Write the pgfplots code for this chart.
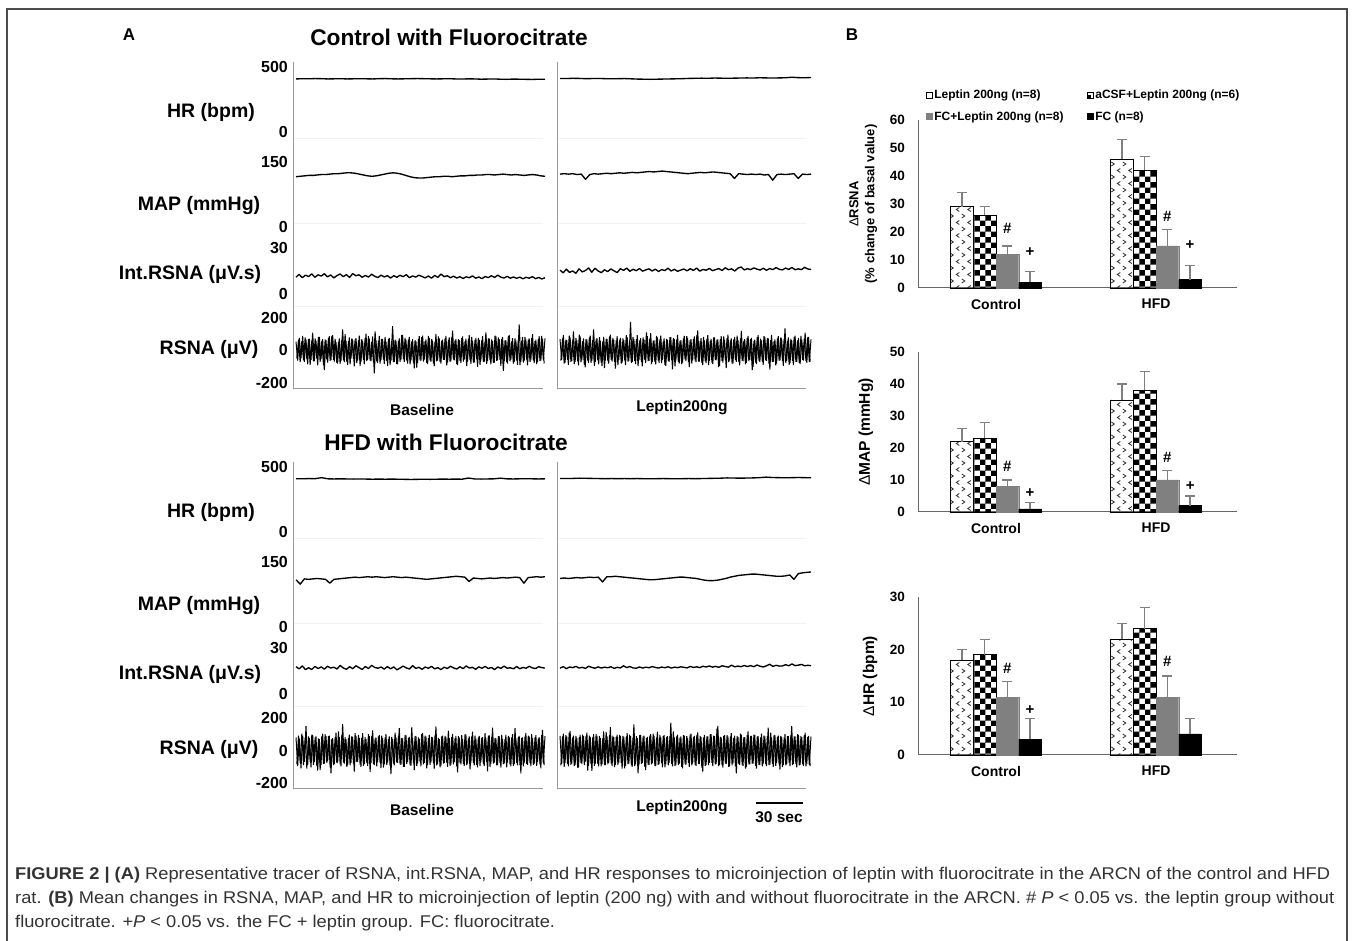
\documentclass[border=0pt]{standalone}
\usepackage{pgfplots}
\pgfplotsset{compat=1.18}
\usepackage{pgfplotstable}
\usepackage{fontspec}
\setmainfont{Liberation Sans}
\newfontfamily\capfont[FakeStretch=1.075]{Liberation Sans}
\usetikzlibrary{patterns}
\newcommand\fsz[1]{\fontsize{#1pt}{#1pt}\selectfont}

\pgfdeclarepatternformonly{bigchecker}{\pgfpointorigin}{\pgfqpoint{11.4pt}{11.4pt}}{\pgfqpoint{11.4pt}{11.4pt}}{%
 \pgfpathrectangle{\pgfpointorigin}{\pgfqpoint{5.75pt}{5.75pt}}%
 \pgfpathrectangle{\pgfqpoint{5.7pt}{5.7pt}}{\pgfqpoint{5.75pt}{5.75pt}}%
 \pgfusepath{fill}}
\pgfdeclarepatternformonly{chev}{\pgfqpoint{-1pt}{-1pt}}{\pgfqpoint{12.5pt}{14pt}}{\pgfqpoint{11.5pt}{13pt}}{%
 \pgfsetlinewidth{0.8pt}%
 \pgfpathmoveto{\pgfqpoint{4.8pt}{5.5pt}}\pgfpathlineto{\pgfqpoint{1.8pt}{3.5pt}}\pgfpathlineto{\pgfqpoint{4.8pt}{1.5pt}}%
 \pgfpathmoveto{\pgfqpoint{7.3pt}{12pt}}\pgfpathlineto{\pgfqpoint{10.3pt}{10pt}}\pgfpathlineto{\pgfqpoint{7.3pt}{8pt}}%
 \pgfusepath{stroke}}

% ---------------- bar chart data ----------------
\pgfplotstableread{
x v1 e1 v2 e2 v3 e3 v4 e4
0 29 5 26 3 12 3 2 4
1 46 7 42 5 15 6 3 5
}\tabR
\pgfplotstableread{
x v1 e1 v2 e2 v3 e3 v4 e4
0 22 4 23 5 8 2 1 2
1 35 5 38 6 10 3 2 3
}\tabM
\pgfplotstableread{
x v1 e1 v2 e2 v3 e3 v4 e4
0 18 2 19 3 11 3 3 4
1 22 3 24 4 11 4 4 3
}\tabH

% ---------------- trace data ----------------
\pgfplotstableread[row sep=\\]{y\\
408\\410\\409\\411\\410\\408\\409\\410\\408\\409\\410\\409\\408\\410\\411\\409\\408\\409\\410\\411\\
410\\409\\408\\409\\410\\408\\407\\409\\408\\406\\407\\408\\406\\405\\407\\406\\405\\404\\406\\405\\}\hrTL
\pgfplotstableread[row sep=\\]{y\\
412\\411\\413\\412\\410\\411\\412\\410\\409\\410\\411\\409\\407\\406\\405\\406\\407\\408\\409\\410\\
412\\413\\414\\413\\415\\414\\413\\414\\415\\416\\415\\417\\416\\415\\416\\417\\421\\418\\417\\419\\}\hrTR
\pgfplotstableread[row sep=\\]{y\\
410\\409\\411\\410\\418\\409\\408\\409\\408\\407\\408\\407\\406\\407\\406\\407\\406\\405\\404\\405\\
406\\405\\406\\407\\406\\407\\406\\415\\408\\407\\408\\409\\414\\409\\408\\409\\410\\409\\408\\409\\}\hrBL
\pgfplotstableread[row sep=\\]{y\\
412\\411\\412\\414\\413\\412\\411\\410\\411\\410\\411\\410\\411\\410\\409\\410\\411\\410\\409\\410\\
411\\410\\411\\412\\413\\414\\416\\415\\414\\415\\416\\418\\422\\419\\418\\417\\418\\419\\418\\417\\}\hrBR

\pgfplotstableread[row sep=\\]{y\\
116\\117\\118\\119\\119\\120\\121\\121\\122\\123\\123\\124\\125\\125\\124\\122\\120\\118\\117\\118\\
120\\122\\124\\125\\124\\122\\119\\116\\114\\113\\113\\114\\115\\116\\116\\117\\117\\116\\117\\118\\
118\\119\\119\\120\\120\\121\\121\\120\\121\\122\\121\\120\\121\\120\\119\\120\\121\\120\\118\\117\\}\mapTL
\pgfplotstableread[row sep=\\]{y\\
122\\123\\122\\123\\121\\122\\110\\121\\123\\122\\123\\124\\123\\124\\125\\124\\125\\126\\125\\126\\
127\\128\\127\\128\\129\\128\\127\\126\\125\\124\\123\\124\\125\\126\\125\\126\\127\\126\\125\\124\\
123\\112\\123\\122\\121\\122\\121\\122\\120\\121\\108\\121\\122\\121\\122\\123\\112\\122\\121\\122\\}\mapTR
\pgfplotstableread[row sep=\\]{y\\
109\\99\\111\\110\\111\\112\\111\\110\\101\\110\\111\\112\\113\\114\\115\\114\\115\\116\\115\\116\\
115\\114\\115\\116\\115\\114\\115\\114\\113\\112\\111\\110\\111\\112\\113\\114\\115\\116\\117\\116\\
115\\105\\113\\112\\111\\112\\113\\112\\113\\114\\113\\114\\115\\114\\101\\114\\115\\116\\115\\116\\}\mapBL
\pgfplotstableread[row sep=\\]{y\\
112\\113\\112\\113\\114\\113\\114\\115\\114\\115\\104\\116\\116\\117\\116\\115\\114\\113\\112\\111\\
110\\109\\109\\110\\111\\112\\113\\114\\115\\115\\114\\113\\112\\110\\108\\107\\107\\108\\110\\112\\
115\\117\\119\\120\\121\\122\\122\\121\\120\\119\\118\\117\\117\\118\\120\\110\\123\\125\\126\\127\\}\mapBR

\pgfplotstableread[row sep=\\]{y\\
11.0\\12.8\\10.6\\12.3\\11.4\\13.1\\10.9\\12.5\\11.7\\13.2\\11.2\\12.4\\10.5\\12.0\\13.0\\11.3\\12.6\\10.8\\13.3\\11.9\\
12.5\\10.9\\12.1\\11.0\\12.9\\11.5\\10.7\\12.3\\11.1\\12.0\\10.4\\11.9\\10.9\\12.2\\11.3\\12.6\\10.6\\11.8\\11.0\\12.3\\
11.4\\10.5\\11.7\\10.3\\12.1\\10.8\\13.0\\11.3\\11.9\\10.6\\11.6\\10.4\\11.3\\10.1\\11.2\\10.6\\11.8\\10.3\\11.1\\10.0\\
11.4\\10.7\\11.9\\10.8\\12.3\\11.0\\10.4\\11.5\\10.3\\11.1\\10.2\\11.0\\9.9\\10.9\\10.3\\11.3\\10.0\\10.8\\9.8\\10.6\\}\intTL
\pgfplotstableread[row sep=\\]{y\\
15.6\\13.8\\16.2\\14.1\\15.0\\13.5\\16.4\\14.4\\15.3\\17.0\\14.2\\16.8\\15.0\\13.9\\15.8\\14.6\\16.3\\15.1\\14.0\\16.5\\
15.4\\16.9\\14.8\\16.1\\15.2\\16.6\\14.9\\15.7\\16.4\\15.0\\16.2\\14.7\\15.9\\15.3\\16.8\\15.0\\16.1\\14.8\\15.6\\16.3\\
15.1\\16.5\\15.4\\16.9\\14.9\\16.0\\15.5\\16.7\\15.2\\15.9\\16.6\\15.3\\17.1\\15.8\\16.4\\15.0\\16.8\\17.6\\15.7\\16.5\\
15.9\\17.0\\16.2\\15.6\\16.8\\15.4\\16.6\\15.9\\17.2\\16.1\\15.7\\16.9\\16.0\\17.3\\15.8\\16.4\\15.9\\17.4\\16.3\\16.0\\}\intTR
\pgfplotstableread[row sep=\\]{y\\
17.8\\16.4\\18.3\\15.9\\17.1\\16.0\\18.0\\16.6\\17.7\\16.2\\18.1\\16.9\\17.5\\16.3\\18.6\\17.0\\16.1\\17.8\\16.5\\18.4\\
17.2\\16.0\\17.9\\16.6\\18.7\\17.3\\16.8\\17.6\\16.2\\17.9\\16.4\\17.7\\15.8\\16.9\\18.2\\17.0\\16.3\\18.5\\16.7\\17.4\\
16.1\\17.6\\16.8\\18.0\\16.4\\17.2\\15.9\\17.5\\16.6\\18.1\\17.0\\16.3\\17.8\\16.5\\18.3\\16.9\\17.4\\16.1\\17.7\\16.8\\
18.0\\16.6\\17.3\\15.9\\17.6\\16.7\\18.2\\16.8\\17.1\\16.4\\17.9\\16.5\\17.3\\16.8\\18.1\\17.0\\16.6\\17.8\\17.2\\16.9\\}\intBL
\pgfplotstableread[row sep=\\]{y\\
16.8\\17.9\\16.5\\17.6\\17.2\\18.0\\16.9\\17.4\\16.7\\18.1\\17.3\\16.8\\17.7\\16.9\\17.5\\17.1\\17.8\\16.7\\17.4\\17.0\\
18.4\\17.2\\17.9\\17.0\\16.8\\17.6\\16.9\\17.5\\17.1\\17.9\\17.3\\16.9\\17.6\\17.1\\17.8\\16.9\\17.5\\17.2\\17.7\\17.4\\
17.0\\18.0\\17.3\\17.7\\17.2\\18.1\\17.6\\18.3\\17.5\\18.0\\17.4\\18.4\\17.9\\17.5\\18.8\\17.7\\18.2\\17.8\\18.6\\17.9\\
18.5\\17.8\\18.9\\18.1\\17.6\\18.4\\19.4\\18.0\\18.7\\18.2\\18.3\\19.1\\18.4\\19.6\\18.5\\18.8\\19.3\\18.4\\18.7\\18.5\\}\intBR

% RSNA: two interleaved sample streams per trace (a = even samples, b = odd samples)
\pgfplotstableread[row sep=\\]{y\\
55\\-62\\78\\-48\\90\\-70\\66\\-85\\72\\-58\\110\\-66\\60\\-92\\84\\-54\\70\\-120\\63\\-75\\
88\\-60\\95\\-68\\52\\-80\\74\\-64\\130\\-72\\58\\-88\\80\\-50\\68\\-98\\76\\-62\\92\\-70\\
60\\-84\\104\\-58\\72\\-66\\86\\-140\\64\\-76\\90\\-60\\70\\-82\\56\\-94\\78\\-66\\150\\-72\\
62\\-86\\74\\-58\\96\\-70\\66\\-80\\84\\-62\\70\\-110\\58\\-76\\88\\-64\\92\\-56\\68\\-84\\
76\\-70\\60\\-96\\102\\-62\\74\\-80\\66\\-58\\90\\-74\\80\\-66\\122\\-60\\70\\-90\\64\\-78\\
86\\-56\\72\\-68\\94\\-82\\60\\-74\\78\\-100\\66\\-62\\88\\-70\\112\\-64\\74\\-86\\58\\-76\\
90\\-60\\70\\-94\\82\\-66\\64\\-80\\96\\-58\\76\\-72\\62\\-88\\160\\-70\\84\\-64\\68\\-92\\
74\\-60\\100\\-78\\66\\-70\\88\\-62\\72\\-80\\}\rsTLa
\pgfplotstableread[row sep=\\]{y\\
-48\\66\\-72\\58\\-60\\80\\-54\\70\\-88\\62\\-66\\74\\-50\\84\\-70\\60\\-92\\68\\-56\\78\\
-64\\90\\-58\\72\\-76\\54\\-82\\66\\-60\\100\\-70\\58\\-86\\74\\-52\\68\\-78\\62\\-94\\70\\
-58\\76\\-66\\88\\-62\\54\\-74\\118\\-68\\60\\-80\\72\\-56\\84\\-64\\70\\-90\\58\\-72\\66\\
-84\\60\\-70\\96\\-54\\78\\-62\\68\\-86\\56\\-74\\64\\-106\\72\\-60\\82\\-68\\58\\-76\\90\\
-62\\70\\-80\\56\\-66\\86\\-72\\60\\-58\\74\\-92\\66\\-70\\80\\-56\\62\\-84\\70\\-64\\76\\
-68\\58\\-96\\72\\-60\\84\\-74\\66\\-54\\78\\-88\\62\\-70\\56\\-82\\74\\-60\\68\\-76\\92\\
-64\\80\\-58\\70\\-126\\62\\-72\\88\\-66\\56\\-80\\74\\-62\\68\\-90\\60\\-74\\84\\-56\\66\\
-70\\78\\-62\\58\\-84\\72\\-66\\90\\-60\\74\\}\rsTLb
\pgfplotstableread[row sep=\\]{y\\
70\\-58\\96\\-74\\64\\-88\\80\\-66\\118\\-70\\62\\-92\\86\\-60\\74\\-104\\68\\-78\\92\\-64\\
130\\-70\\76\\-86\\60\\-96\\84\\-62\\72\\-80\\98\\-68\\66\\-112\\88\\-58\\78\\-74\\64\\-90\\
82\\-66\\176\\-72\\70\\-84\\94\\-60\\76\\-98\\68\\-78\\88\\-64\\106\\-70\\62\\-86\\80\\-76\\
92\\-58\\74\\-94\\66\\-70\\84\\-116\\72\\-62\\96\\-80\\64\\-74\\90\\-66\\78\\-102\\70\\-60\\
86\\-72\\124\\-68\\76\\-90\\62\\-78\\94\\-64\\72\\-84\\80\\-60\\68\\-96\\88\\-74\\66\\-108\\
98\\-62\\74\\-80\\84\\-70\\64\\-92\\120\\-66\\70\\-76\\90\\-58\\78\\-100\\66\\-84\\94\\-72\\
62\\-88\\82\\-64\\76\\-118\\96\\-70\\68\\-80\\88\\-62\\74\\-94\\136\\-66\\80\\-78\\64\\-90\\
92\\-70\\78\\-84\\66\\-62\\110\\-76\\84\\-68\\}\rsTRa
\pgfplotstableread[row sep=\\]{y\\
-62\\74\\-80\\66\\-58\\92\\-70\\60\\-84\\76\\-66\\98\\-72\\58\\-88\\70\\-62\\80\\-76\\64\\
-94\\68\\-60\\82\\-74\\56\\-108\\72\\-66\\86\\-58\\78\\-70\\62\\-90\\66\\-80\\74\\-60\\94\\
-68\\58\\-76\\84\\-64\\70\\-96\\62\\-72\\80\\-58\\112\\-66\\74\\-84\\60\\-70\\90\\-62\\68\\
-78\\56\\-88\\72\\-64\\82\\-60\\76\\-98\\66\\-70\\60\\-84\\74\\-56\\88\\-72\\64\\-80\\70\\
-62\\94\\-68\\58\\-76\\84\\-66\\72\\-90\\60\\-74\\80\\-58\\66\\-102\\70\\-64\\86\\-60\\76\\
-72\\62\\-80\\68\\-58\\92\\-70\\74\\-64\\60\\-86\\78\\-66\\70\\-120\\58\\-74\\84\\-62\\72\\
-68\\88\\-60\\76\\-82\\64\\-70\\58\\-92\\74\\-62\\80\\-66\\70\\-78\\60\\-88\\72\\-64\\84\\
-70\\62\\-76\\90\\-58\\74\\-66\\80\\-72\\68\\}\rsTRb
\pgfplotstableread[row sep=\\]{y\\
80\\-96\\74\\-110\\92\\-70\\150\\-88\\78\\-104\\96\\-72\\86\\-124\\70\\-90\\104\\-80\\88\\-66\\
92\\-140\\76\\-84\\110\\-74\\82\\-98\\164\\-80\\70\\-92\\98\\-76\\84\\-130\\90\\-70\\78\\-100\\
106\\-84\\72\\-96\\88\\-78\\124\\-90\\80\\-72\\94\\-108\\76\\-86\\100\\-74\\86\\-146\\70\\-92\\
82\\-76\\138\\-88\\74\\-100\\96\\-70\\84\\-94\\78\\-120\\90\\-80\\72\\-98\\108\\-76\\86\\-90\\
96\\-74\\80\\-112\\148\\-84\\70\\-96\\92\\-78\\84\\-100\\76\\-88\\102\\-72\\90\\-134\\80\\-86\\
72\\-94\\98\\-80\\86\\-76\\116\\-92\\74\\-104\\90\\-70\\82\\-96\\78\\-128\\94\\-84\\140\\-76\\
76\\-90\\88\\-106\\72\\-80\\96\\-74\\84\\-98\\100\\-86\\74\\-92\\90\\-140\\80\\-78\\108\\-88\\
86\\-96\\76\\-82\\94\\-72\\82\\-110\\126\\-90\\}\rsBLa
\pgfplotstableread[row sep=\\]{y\\
-84\\92\\-76\\104\\-90\\78\\-112\\86\\-70\\98\\-88\\80\\-96\\74\\-120\\90\\-82\\100\\-76\\88\\
-104\\72\\-90\\84\\-78\\118\\-86\\94\\-74\\82\\-100\\76\\-92\\88\\-80\\106\\-72\\96\\-88\\78\\
-94\\82\\-76\\100\\-132\\90\\-84\\74\\-98\\86\\-78\\92\\-106\\80\\-88\\72\\-96\\84\\-80\\110\\
-74\\90\\-86\\78\\-100\\94\\-82\\76\\-90\\142\\-78\\88\\-96\\80\\-72\\100\\-86\\92\\-110\\76\\
-88\\84\\-76\\96\\-92\\78\\-104\\86\\-80\\90\\-74\\122\\-94\\82\\-86\\76\\-98\\88\\-78\\94\\
-82\\100\\-90\\74\\-116\\86\\-76\\92\\-88\\80\\-96\\78\\-84\\106\\-72\\90\\-100\\84\\-80\\76\\
-92\\88\\-78\\96\\-84\\72\\-104\\90\\-86\\80\\-94\\138\\-76\\84\\-90\\78\\-98\\86\\-82\\92\\
-76\\100\\-88\\80\\-94\\74\\-86\\96\\-80\\88\\}\rsBLb
\pgfplotstableread[row sep=\\]{y\\
90\\-84\\104\\-76\\86\\-98\\120\\-80\\92\\-88\\78\\-106\\96\\-84\\88\\-72\\110\\-94\\84\\-126\\
100\\-80\\92\\-98\\76\\-86\\118\\-90\\86\\-78\\144\\-96\\82\\-88\\98\\-74\\90\\-112\\84\\-94\\
106\\-80\\88\\-100\\160\\-86\\78\\-92\\96\\-76\\92\\-120\\84\\-88\\100\\-78\\90\\-96\\116\\-84\\
80\\-104\\94\\-86\\88\\-76\\172\\-98\\84\\-90\\98\\-82\\86\\-110\\92\\-88\\78\\-100\\104\\-80\\
90\\-94\\112\\-84\\82\\-130\\96\\-88\\86\\-76\\100\\-96\\88\\-84\\152\\-90\\80\\-106\\94\\-82\\
86\\-98\\106\\-80\\92\\-140\\84\\-88\\98\\-94\\82\\-102\\118\\-86\\90\\-80\\96\\-112\\88\\-90\\
104\\-84\\86\\-96\\140\\-88\\80\\-100\\94\\-78\\92\\-118\\84\\-90\\100\\-86\\88\\-96\\150\\-82\\
86\\-104\\96\\-88\\82\\-94\\110\\-84\\90\\-96\\}\rsBRa
\pgfplotstableread[row sep=\\]{y\\
-92\\86\\-100\\94\\-84\\110\\-88\\80\\-96\\90\\-106\\84\\-78\\98\\-90\\88\\-124\\92\\-86\\80\\
-94\\100\\-82\\88\\-98\\76\\-90\\114\\-86\\94\\-80\\92\\-102\\84\\-88\\96\\-78\\90\\-110\\86\\
-84\\98\\-92\\80\\-96\\88\\-140\\94\\-82\\86\\-100\\78\\-90\\92\\-86\\104\\-94\\80\\-88\\96\\
-78\\90\\-104\\84\\-92\\88\\-82\\118\\-96\\86\\-90\\80\\-100\\94\\-84\\88\\-76\\98\\-92\\84\\
-88\\96\\-82\\90\\-106\\80\\-94\\86\\-90\\100\\-78\\92\\-86\\134\\-96\\84\\-88\\90\\-80\\94\\
-100\\86\\-92\\78\\-96\\88\\-84\\104\\-90\\82\\-112\\94\\-86\\90\\-80\\98\\-94\\86\\-88\\80\\
-98\\92\\-84\\88\\-90\\110\\-82\\96\\-94\\84\\-86\\90\\-102\\80\\-92\\88\\-78\\96\\-90\\86\\
-84\\100\\-92\\88\\-86\\94\\-98\\82\\-90\\86\\}\rsBRb

\tikzset{ann/.style={font=\fsz{15}\bfseries, inner sep=0pt}}
\pgfplotsset{
  every axis/.append style={/pgf/number format/assume math mode=true},
  frame/.style={scale only axis, anchor=south west, xmin=0, xmax=1, ymin=0, ymax=327,
    height=327pt, axis lines*=left, axis line style={draw=black!40, line width=1pt},
    xtick=\empty, ytick={83,166,251}, yticklabels={}, major tick length=0pt,
    ymajorgrids, grid style={black!5, line width=0.8pt}},
  chan/.style={scale only axis, anchor=south west, axis x line=none, axis y line=left,
    y axis line style={draw=none}, major tick length=0pt, enlarge x limits=false, clip=false,
    yticklabel style={font=\fsz{16}\bfseries, anchor=east, inner sep=0pt, xshift=-8pt}},
  tr/.style={black, line width=1.35pt, line join=round},
  rs/.style={black, line width=1.0pt, line join=bevel},
  barax/.style={scale only axis, anchor=south west, width=319pt, ybar=0pt, bar width=22.7pt,
    xmin=-0.4875, xmax=1.506, ymin=0, axis lines*=left,
    axis line style={draw=black!60, line width=1pt},
    xtick={0,1}, xticklabels={Control,HFD}, major tick length=0pt,
    yticklabel style={font=\fsz{13.5}\bfseries, anchor=east, inner sep=0pt, xshift=-13pt},
    xticklabel style={font=\fsz{14}\bfseries, anchor=north, inner sep=0pt, yshift=-11pt},
    clip=false,
    error bars/y dir=plus, error bars/y explicit,
    error bars/error bar style={draw=black!50, line width=1.2pt},
    error bars/error mark options={draw=black!50, line width=1.2pt, mark size=5pt, rotate=90},
    ylabel style={font=\fsz{15.5}\bfseries, align=center, anchor=center}},
  b1/.style={draw=black, line width=0.9pt, pattern=chev, pattern color=black!80,
    legend image code/.code={\draw[black, line width=0.6pt, fill=white] (0pt,-3pt) rectangle (6pt,3pt);}},
  b2/.style={draw=black, line width=0.9pt, pattern=bigchecker, pattern color=black,
    legend image code/.code={\draw[black, line width=0.6pt, fill=white] (0pt,-3pt) rectangle (6pt,3pt); \fill[black] (0pt,-3pt) rectangle (3pt,0pt);}},
  b3/.style={draw=black!50, fill=black!50,
    legend image code/.code={\fill[black!50] (0pt,-3pt) rectangle (6pt,3pt);}},
  b4/.style={draw=black, fill=black,
    legend image code/.code={\fill[black] (0pt,-3pt) rectangle (6pt,3pt);}},
}

\begin{document}
\begin{tikzpicture}
\useasboundingbox (0,0) rectangle (1357pt,941pt);
\fill[white] (0,0) rectangle (1357pt,941pt);
\draw[black!70, line width=1.3pt] (7pt,-2pt) -- (7pt,932pt) -- (1347pt,932pt) -- (1347pt,-2pt);

% ================= Panel A =================
\node[font=\fsz{17}\bfseries] at (129pt,906pt) {A};
\node[font=\fsz{22.7}\bfseries] at (449pt,904pt) {Control with Fluorocitrate};
\node[font=\fsz{22.7}\bfseries] at (446pt,499pt) {HFD with Fluorocitrate};

% frames
\begin{axis}[frame, at={(293pt,552pt)}, width=250pt]\end{axis}
\begin{axis}[frame, at={(557pt,552pt)}, width=249pt]\end{axis}
\begin{axis}[frame, at={(293pt,152pt)}, width=250pt]\end{axis}
\begin{axis}[frame, at={(557pt,152pt)}, width=249pt]\end{axis}

% ---- top block, left (Baseline)
\begin{axis}[chan, at={(296pt,809pt)}, width=249pt, height=65pt, ymin=0, ymax=500, ytick={0,500}]
\addplot[tr] table[x expr=\coordindex, y=y]{\hrTL};
\end{axis}
\begin{axis}[chan, at={(296pt,714pt)}, width=249pt, height=65pt, ymin=0, ymax=150, ytick={0,150}]
\addplot[tr] table[x expr=\coordindex, y=y]{\mapTL};
\end{axis}
\begin{axis}[chan, at={(296pt,647pt)}, width=249pt, height=46pt, ymin=0, ymax=30, ytick={0,30}]
\addplot[tr] table[x expr=\coordindex, y=y]{\intTL};
\end{axis}
\begin{axis}[chan, at={(296pt,558pt)}, width=249pt, height=65pt, ymin=-200, ymax=200, ytick={-200,0,200}]
\addplot[rs] table[x expr=\coordindex, y=y]{\rsTLa};
\addplot[rs] table[x expr=\coordindex+0.5, y=y]{\rsTLb};
\end{axis}
% ---- top block, right (Leptin)
\begin{axis}[chan, at={(560pt,809pt)}, width=251pt, height=65pt, ymin=0, ymax=500, ytick=\empty]
\addplot[tr] table[x expr=\coordindex, y=y]{\hrTR};
\end{axis}
\begin{axis}[chan, at={(560pt,714pt)}, width=251pt, height=65pt, ymin=0, ymax=150, ytick=\empty]
\addplot[tr] table[x expr=\coordindex, y=y]{\mapTR};
\end{axis}
\begin{axis}[chan, at={(560pt,647pt)}, width=251pt, height=46pt, ymin=0, ymax=30, ytick=\empty]
\addplot[tr] table[x expr=\coordindex, y=y]{\intTR};
\end{axis}
\begin{axis}[chan, at={(560pt,558pt)}, width=251pt, height=65pt, ymin=-200, ymax=200, ytick=\empty]
\addplot[rs] table[x expr=\coordindex, y=y]{\rsTRa};
\addplot[rs] table[x expr=\coordindex+0.5, y=y]{\rsTRb};
\end{axis}

% ---- bottom block, left
\begin{axis}[chan, at={(296pt,409pt)}, width=249pt, height=65pt, ymin=0, ymax=500, ytick={0,500}]
\addplot[tr] table[x expr=\coordindex, y=y]{\hrBL};
\end{axis}
\begin{axis}[chan, at={(296pt,314pt)}, width=249pt, height=65pt, ymin=0, ymax=150, ytick={0,150}]
\addplot[tr] table[x expr=\coordindex, y=y]{\mapBL};
\end{axis}
\begin{axis}[chan, at={(296pt,247pt)}, width=249pt, height=46pt, ymin=0, ymax=30, ytick={0,30}]
\addplot[tr] table[x expr=\coordindex, y=y]{\intBL};
\end{axis}
\begin{axis}[chan, at={(296pt,158pt)}, width=249pt, height=65pt, ymin=-200, ymax=200, ytick={-200,0,200}]
\addplot[rs] table[x expr=\coordindex, y=y]{\rsBLa};
\addplot[rs] table[x expr=\coordindex+0.5, y=y]{\rsBLb};
\end{axis}
% ---- bottom block, right
\begin{axis}[chan, at={(560pt,409pt)}, width=251pt, height=65pt, ymin=0, ymax=500, ytick=\empty]
\addplot[tr] table[x expr=\coordindex, y=y]{\hrBR};
\end{axis}
\begin{axis}[chan, at={(560pt,314pt)}, width=251pt, height=65pt, ymin=0, ymax=150, ytick=\empty]
\addplot[tr] table[x expr=\coordindex, y=y]{\mapBR};
\end{axis}
\begin{axis}[chan, at={(560pt,247pt)}, width=251pt, height=46pt, ymin=0, ymax=30, ytick=\empty]
\addplot[tr] table[x expr=\coordindex, y=y]{\intBR};
\end{axis}
\begin{axis}[chan, at={(560pt,158pt)}, width=251pt, height=65pt, ymin=-200, ymax=200, ytick=\empty]
\addplot[rs] table[x expr=\coordindex, y=y]{\rsBRa};
\addplot[rs] table[x expr=\coordindex+0.5, y=y]{\rsBRb};
\end{axis}

% channel names
\foreach \dy in {0,400}{
  \node[font=\fsz{19.5}\bfseries] at (211pt,829pt-\dy pt) {HR (bpm)};
  \node[font=\fsz{19.5}\bfseries] at (199pt,735pt-\dy pt) {MAP (mmHg)};
  \node[font=\fsz{19.5}\bfseries] at (190pt,667pt-\dy pt) {Int.RSNA (μV.s)};
  \node[font=\fsz{19.5}\bfseries] at (209pt,592pt-\dy pt) {RSNA (μV)};
  \node[font=\fsz{15.5}\bfseries] at (422pt,531pt-\dy pt) {Baseline};
  \node[font=\fsz{15.5}\bfseries] at (682pt,533pt-\dy pt) {Leptin200ng};
}
\draw[black, line width=2.5pt] (756pt,138pt) -- (803pt,138pt);
\node[font=\fsz{15.5}\bfseries] at (779pt,124pt) {30 sec};

% ================= Panel B =================
\node[font=\fsz{17}\bfseries] at (852pt,906pt) {B};

\begin{axis}[barax, at={(918pt,653pt)}, height=168pt, ymax=60, ytick={0,10,...,60},
  ylabel={{\mdseries Δ}RSNA\\(\% change of basal value)},
  ylabel style={font=\fontsize{13pt}{16pt}\selectfont\bfseries, at={(axis description cs:-0.172,0.5)}},
  legend style={at={(0.025,1.187)}, anchor=north west, draw=none, fill=none,
    legend columns=2, font=\fsz{12}\bfseries, row sep=8pt, inner sep=0pt,
    nodes={inner sep=1.5pt},
    /tikz/every even column/.append style={column sep=22pt}},
  legend cell align=left]
\addplot[b1] table[x=x, y=v1, y error=e1]{\tabR};
\addplot[b2] table[x=x, y=v2, y error=e2]{\tabR};
\addplot[b3] table[x=x, y=v3, y error=e3]{\tabR};
\addplot[b4] table[x=x, y=v4, y error=e4]{\tabR};
\legend{Leptin 200ng (n=8), aCSF+Leptin 200ng (n=6), FC+Leptin 200ng (n=8), FC (n=8)}
\node[ann] at (axis cs:0.071,21.4) {\#};
\node[ann] at (axis cs:0.213,12.9) {+};
\node[ann] at (axis cs:1.071,25.4) {\#};
\node[ann] at (axis cs:1.213,15.4) {+};
\end{axis}

\begin{axis}[barax, at={(918pt,429pt)}, height=160pt, ymax=50, ytick={0,10,...,50},
  ylabel={{\mdseries Δ}MAP (mmHg)},
  ylabel style={at={(axis description cs:-0.163,0.5)}}]
\addplot[b1] table[x=x, y=v1, y error=e1]{\tabM};
\addplot[b2] table[x=x, y=v2, y error=e2]{\tabM};
\addplot[b3] table[x=x, y=v3, y error=e3]{\tabM};
\addplot[b4] table[x=x, y=v4, y error=e4]{\tabM};
\node[ann] at (axis cs:0.071,14.2) {\#};
\node[ann] at (axis cs:0.213,5.8) {+};
\node[ann] at (axis cs:1.071,17) {\#};
\node[ann] at (axis cs:1.213,8.2) {+};
\end{axis}

\begin{axis}[barax, at={(918pt,186pt)}, height=158pt, ymax=30, ytick={0,10,20,30},
  ylabel={{\mdseries Δ}HR (bpm)},
  ylabel style={at={(axis description cs:-0.150,0.5)}}]
\addplot[b1] table[x=x, y=v1, y error=e1]{\tabH};
\addplot[b2] table[x=x, y=v2, y error=e2]{\tabH};
\addplot[b3] table[x=x, y=v3, y error=e3]{\tabH};
\addplot[b4] table[x=x, y=v4, y error=e4]{\tabH};
\node[ann] at (axis cs:0.071,16.5) {\#};
\node[ann] at (axis cs:0.213,8.5) {+};
\node[ann] at (axis cs:1.071,17.7) {\#};
\end{axis}

% ================= Caption =================
\begin{scope}[every node/.style={anchor=base west, inner sep=0pt, font=\capfont\fsz{17}, text=black!80}]
\node at (15pt,61pt) {\textbf{FIGURE 2 | (A)} Representative tracer of RSNA, int.RSNA, MAP, and HR responses to microinjection of leptin with fluorocitrate in the ARCN of the control and HFD};
\node at (15pt,37pt) {rat. \textbf{(B)} Mean changes in RSNA, MAP, and HR to microinjection of leptin (200 ng) with and without fluorocitrate in the ARCN. \# \textit{P} < 0.05 vs. the leptin group without};
\node at (15pt,13pt) {fluorocitrate. +\textit{P} < 0.05 vs. the FC + leptin group. FC: fluorocitrate.};
\end{scope}
\end{tikzpicture}
\end{document}
